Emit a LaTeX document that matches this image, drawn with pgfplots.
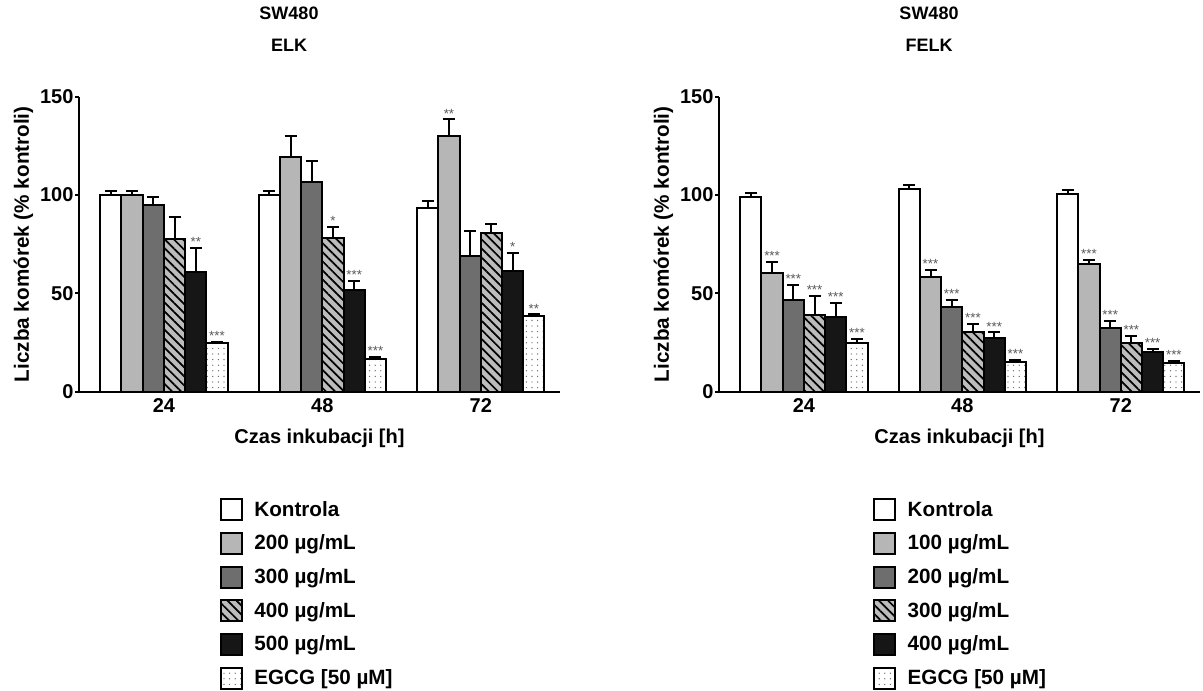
\documentclass[border=0pt]{standalone}
\usepackage{pgfplots}
\pgfplotsset{compat=1.18}
\usepackage{pgfplotstable}
\usetikzlibrary{patterns.meta}
\usepackage{fontspec}
\setmainfont{Liberation Sans}

\definecolor{gA}{RGB}{182,182,182}
\definecolor{gB}{RGB}{110,110,110}
\definecolor{gC}{RGB}{188,188,188}
\definecolor{gD}{RGB}{22,22,22}

% ELK: group, values and SEM for the six series
\pgfplotstableread{
g y1 e1 y2 e2 y3 e3 y4 e4 y5 e5 y6 e6
0 100 2 100 2 95 4 77.8 11 60.7 12.5 24.6 0.8
1 100 2 119.5 10.5 106.4 11 78.3 5.6 51.7 4.6 16.5 1
2 93.2 4 130 8.5 69 12.7 80.5 4.8 61.5 9.2 38.5 0.8
}\elk
\pgfplotstableread{
g k y s
0 5 73.2 **
0 6 25.4 ***
1 4 83.9 *
1 5 56.3 ***
1 6 17.5 ***
2 2 138.5 **
2 5 70.7 *
2 6 39.3 **
}\elkstars

% FELK
\pgfplotstableread{
g y1 e1 y2 e2 y3 e3 y4 e4 y5 e5 y6 e6
0 99 2 60.5 5.6 46.5 8 39.2 9.5 37.8 7.3 24.8 2
1 102.9 2 58.1 3.8 43.2 3.3 30.5 4 27.5 2.7 15.3 1
2 100.7 2 65.1 2 32.2 4 24.8 3.4 20.3 1.5 14.4 1.4
}\felk
\pgfplotstableread{
g k y s
0 2 66.1 ***
0 3 54.5 ***
0 4 48.7 ***
0 5 45.1 ***
0 6 26.8 ***
1 2 61.9 ***
1 3 46.5 ***
1 4 34.5 ***
1 5 30.2 ***
1 6 16.3 ***
2 2 67.1 ***
2 3 36.2 ***
2 4 28.2 ***
2 5 21.8 ***
2 6 15.8 ***
}\felkstars

\pgfplotsset{
  mybar/.style={
    ybar, bar width=0.134, bar shift=0pt, draw=black, line width=1.5pt,
    legend image code/.code={\draw[##1, line width=1.5pt] (0pt,-7.9pt) rectangle (15.8pt,7.9pt);},
    error bars/y dir=plus, error bars/y explicit,
    error bars/error bar style={line width=1.5pt, black, solid},
    error bars/error mark options={rotate=90, mark size=4.5pt, line width=1.5pt, black, solid}
  },
  s1/.style={mybar, fill=white},
  s2/.style={mybar, fill=gA},
  s3/.style={mybar, fill=gB},
  s4/.style={mybar, fill=gC, postaction={pattern={Lines[angle=-45,distance=4.8pt,line width=1.3pt]}, pattern color=black}},
  s5/.style={mybar, fill=gD},
  s6/.style={mybar, fill=white, postaction={pattern={Dots[distance=4.2pt,radius=0.5pt]}, pattern color=gray!75!black}},
  stars/.style={forget plot, draw=none, nodes near coords, point meta=explicit symbolic,
    every node near coord/.style={font=\fontsize{10}{10}\selectfont, text=black!65, anchor=base, inner sep=0pt, yshift=1pt}},
  myaxis/.style={
    width=360.75pt, height=221.25pt, scale only axis,
    xmin=-0.536, xmax=2.5, ymin=0, ymax=150, clip=false,
    axis x line=bottom, axis y line=left,
    every outer x axis line/.append style={-},
    every outer y axis line/.append style={-},
    every inner x axis line/.append style={-},
    every inner y axis line/.append style={-},
    axis line style={line width=1.5pt, black, -},
    xtick={0,1,2}, xticklabels={24,48,72}, x tick style={draw=none},
    ytick={0,50,100,150}, y tick style={line width=1.5pt, black},
    tick align=outside, major tick length=3pt,
    /pgf/number format/assume math mode=true,
    tick label style={font=\fontsize{15}{18}\selectfont\bfseries},
    yticklabel style={inner sep=1pt},
    xticklabel style={inner sep=2pt},
    ylabel={Liczba komórek (\% kontroli)},
    xlabel={Czas inkubacji [h]},
    every axis y label/.style={at={([xshift=-41.6pt]axis description cs:0,0.5)}, rotate=90, anchor=center,
      font=\fontsize{15.5}{18}\selectfont\bfseries},
    every axis x label/.style={at={([yshift=-27.5pt]axis description cs:0.5,0)}, anchor=north, inner sep=0pt,
      font=\fontsize{15}{18}\selectfont\bfseries},
    title style={at={(axis description cs:0.4366,1)}, anchor=south, yshift=28pt, align=center, inner sep=0pt,
      font=\fontsize{13.5}{23.5}\selectfont\bfseries},
    legend cell align=left,
    legend style={anchor=north west, draw=none, fill=none, inner sep=0pt, outer sep=0pt, row sep=8pt,
      font=\fontsize{15.5}{18}\selectfont\bfseries, nodes={inner sep=0pt},
      /tikz/every odd column/.append style={column sep=8.5pt}},
  }
}

\begin{document}
\begin{tikzpicture}
\useasboundingbox (-59.25pt,-223.7pt) rectangle (843pt,293.8pt);

\begin{axis}[myaxis, at={(0pt,0pt)}, anchor=south west, title={SW480\\ELK},
  legend style={at={(axis description cs:0.2931,-0.3603)}}]
\addplot[s1] table[x expr=\thisrow{g}-0.335, y=y1, y error=e1] {\elk};
\addlegendentry{Kontrola}
\addplot[s2] table[x expr=\thisrow{g}-0.201, y=y2, y error=e2] {\elk};
\addlegendentry{200 µg/mL}
\addplot[s3] table[x expr=\thisrow{g}-0.067, y=y3, y error=e3] {\elk};
\addlegendentry{300 µg/mL}
\addplot[s4] table[x expr=\thisrow{g}+0.067, y=y4, y error=e4] {\elk};
\addlegendentry{400 µg/mL}
\addplot[s5] table[x expr=\thisrow{g}+0.201, y=y5, y error=e5] {\elk};
\addlegendentry{500 µg/mL}
\addplot[s6] table[x expr=\thisrow{g}+0.335, y=y6, y error=e6] {\elk};
\addlegendentry{EGCG [50 µM]}
\addplot[stars] table[x expr=\thisrow{g}+(\thisrow{k}-3.5)*0.134, y=y, meta=s] {\elkstars};
\end{axis}

\begin{axis}[myaxis, at={(480pt,0pt)}, anchor=south west, title={SW480\\FELK},
  legend style={at={(axis description cs:0.3208,-0.3603)}}]
\addplot[s1] table[x expr=\thisrow{g}-0.335, y=y1, y error=e1] {\felk};
\addlegendentry{Kontrola}
\addplot[s2] table[x expr=\thisrow{g}-0.201, y=y2, y error=e2] {\felk};
\addlegendentry{100 µg/mL}
\addplot[s3] table[x expr=\thisrow{g}-0.067, y=y3, y error=e3] {\felk};
\addlegendentry{200 µg/mL}
\addplot[s4] table[x expr=\thisrow{g}+0.067, y=y4, y error=e4] {\felk};
\addlegendentry{300 µg/mL}
\addplot[s5] table[x expr=\thisrow{g}+0.201, y=y5, y error=e5] {\felk};
\addlegendentry{400 µg/mL}
\addplot[s6] table[x expr=\thisrow{g}+0.335, y=y6, y error=e6] {\felk};
\addlegendentry{EGCG [50 µM]}
\addplot[stars] table[x expr=\thisrow{g}+(\thisrow{k}-3.5)*0.134, y=y, meta=s] {\felkstars};
\end{axis}
\end{tikzpicture}
\end{document}
